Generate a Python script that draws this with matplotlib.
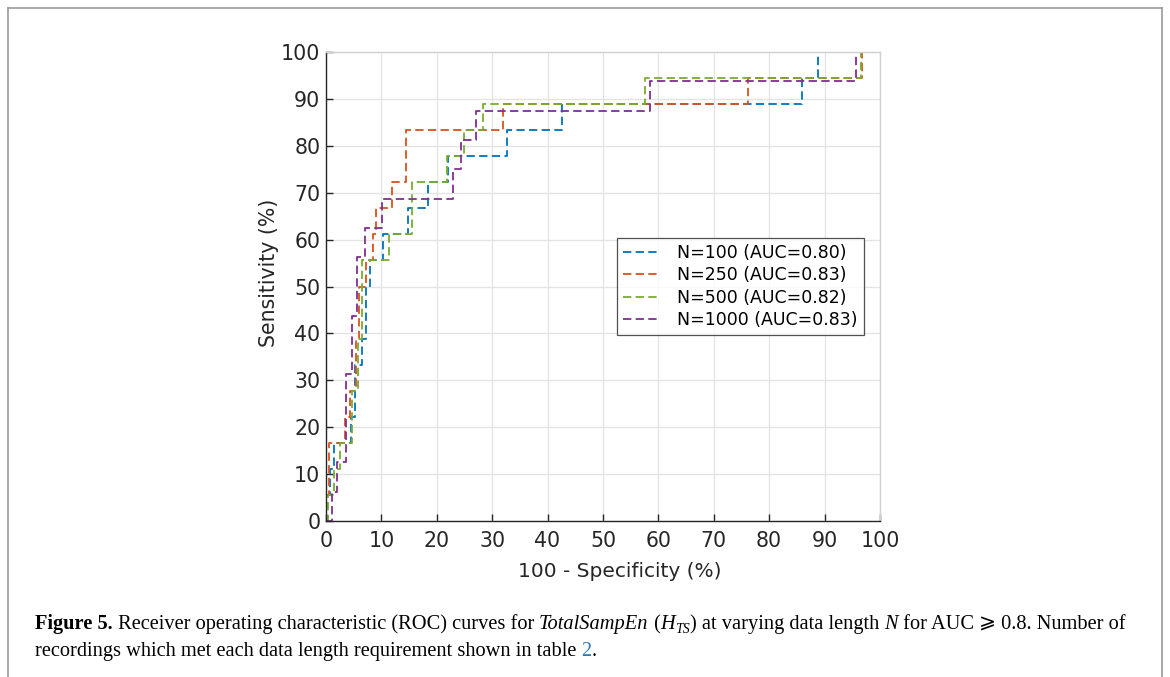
import matplotlib
matplotlib.use("Agg")
import matplotlib.pyplot as plt
from matplotlib.lines import Line2D

# ------------------------------------------------------------------
# Data — ROC points (100 - specificity, sensitivity), in %
# ------------------------------------------------------------------

labels = [
    "N=100 (AUC=0.80)",
    "N=250 (AUC=0.83)",
    "N=500 (AUC=0.82)",
    "N=1000 (AUC=0.83)",
]

fpr_100 = [0, 0, 0.8, 0.8, 1.5, 1.5, 4.5, 4.5, 5.2, 5.2, 6.5, 6.5, 7.2, 7.2, 8, 8,
           10.3, 10.3, 14.8, 14.8, 18.5, 18.5, 22, 22, 32.7, 32.7, 42.6, 42.6,
           86, 86, 88.8, 88.8, 100]
tpr_100 = [0, 5.6, 5.6, 11.1, 11.1, 16.7, 16.7, 22.2, 22.2, 33.3, 33.3, 38.9, 38.9,
           50, 50, 55.6, 55.6, 61.1, 61.1, 66.7, 66.7, 72.2, 72.2, 77.8, 77.8,
           83.3, 83.3, 88.9, 88.9, 94.4, 94.4, 100, 100]

fpr_250 = [0, 0, 0.5, 0.5, 3.5, 3.5, 4.3, 4.3, 5.5, 5.5, 6, 6, 7.2, 7.2,
           8.5, 8.5, 9, 9, 11.9, 11.9, 14.4, 14.4, 32, 32, 76.2, 76.2, 96.8, 96.8, 100]
tpr_250 = [0, 5.6, 5.6, 16.7, 16.7, 22.2, 22.2, 27.8, 27.8, 38.9, 38.9,
           50, 50, 55.6, 55.6, 61.1, 61.1, 66.7, 66.7, 72.2, 72.2, 83.3, 83.3,
           88.9, 88.9, 94.4, 94.4, 100, 100]

fpr_500 = [0, 0.4, 0.4, 1.5, 1.5, 2.5, 2.5, 4.7, 4.7, 5.8, 5.8, 6.5, 6.5, 11.4, 11.4,
           15.5, 15.5, 21.8, 21.8, 25, 25, 28.4, 28.4, 57.6, 57.6, 96.5, 96.5, 100]
tpr_500 = [0, 0, 5.6, 5.6, 11.1, 11.1, 16.7, 16.7, 27.8, 27.8, 38.9, 38.9, 55.6, 55.6,
           61.1, 61.1, 72.2, 72.2, 77.8, 77.8, 83.3, 83.3, 88.9, 88.9, 94.4, 94.4,
           100, 100]

fpr_1000 = [0, 1.1, 1.1, 2, 2, 3.6, 3.6, 4.7, 4.7, 5.6, 5.6, 7, 7, 10.1, 10.1, 23, 23,
            24.4, 24.4, 27, 27, 58.5, 58.5, 95.7, 95.7, 100]
tpr_1000 = [0, 0, 6.25, 6.25, 12.5, 12.5, 31.25, 31.25, 43.75, 43.75, 56.25, 56.25,
            62.5, 62.5, 68.75, 68.75, 75, 75, 81.25, 81.25, 87.5, 87.5, 93.75, 93.75,
            100, 100]

curves = [
    (fpr_100, tpr_100),
    (fpr_250, tpr_250),
    (fpr_500, tpr_500),
    (fpr_1000, tpr_1000),
]

ticks = list(range(0, 101, 10))

# MATLAB default line colours
COLORS = ["#0072BD", "#D95319", "#77AC30", "#7E2F8E"]

# ------------------------------------------------------------------
# Figure
# ------------------------------------------------------------------

plt.rcParams["font.family"] = "DejaVu Sans"

fig = plt.figure(figsize=(11.7, 6.77), dpi=100)
ax = fig.add_axes([0.2786, 0.2304, 0.4735, 0.6928])

for (x, y), c, lab in zip(curves, COLORS, labels):
    ax.plot(x, y, color=c, lw=1.3, linestyle=(0, (4.6, 2.4)), label=lab)

ax.set_xlim(0, 100)
ax.set_ylim(0, 100)
ax.set_xticks(ticks)
ax.set_yticks(ticks)
ax.tick_params(direction="in", length=5, width=1, labelsize=14.8, colors="#262626")
ax.tick_params(axis="x", pad=7)
ax.tick_params(axis="y", pad=4)
ax.grid(True, color="#e3e3e3", lw=0.9)
ax.set_axisbelow(True)

for side in ("left", "bottom"):
    ax.spines[side].set_color("#262626")
    ax.spines[side].set_linewidth(1.0)
for side in ("top", "right"):
    ax.spines[side].set_color("#d0d0d0")
    ax.spines[side].set_linewidth(1.0)

ax.set_xlabel("100 - Specificity (%)", fontsize=14.5, color="#262626")
ax.set_ylabel("Sensitivity (%)", fontsize=14.8, color="#262626")
ax.xaxis.set_label_coords(0.53, -0.087)
ax.yaxis.set_label_coords(-0.084, 0.53)

leg = ax.legend(loc="upper left", bbox_to_anchor=(0.510, 0.622), fontsize=12.5,
                frameon=True, fancybox=False, edgecolor="#262626",
                handlelength=2.2, handletextpad=0.9, borderpad=0.35,
                labelspacing=0.25)
leg.get_frame().set_linewidth(0.9)

# page frame around the figure
FRAME = "#999999"
fig.add_artist(Line2D([8 / 1170, 8 / 1170], [0, 1 - 8 / 677], color=FRAME, lw=1.2))
fig.add_artist(Line2D([8 / 1170, 1162 / 1170], [1 - 8 / 677, 1 - 8 / 677],
                      color=FRAME, lw=1.2))
fig.add_artist(Line2D([1162 / 1170, 1162 / 1170], [0, 1 - 8 / 677], color=FRAME,
                      lw=1.2))

# ------------------------------------------------------------------
# Caption — text runs placed one after another
# ------------------------------------------------------------------

renderer = fig.canvas.get_renderer()
CAP_SIZE = 14.65


def place_run(x_px, y_px, parts):
    """Draw (text, style) segments left to right; returns the end x in pixels."""
    for txt, kw in parts:
        opts = {"fontsize": CAP_SIZE, "family": "Liberation Serif"}
        opts.update(kw)
        t = fig.text(x_px / 1170, 1 - y_px / 677, txt, va="baseline", ha="left",
                     **opts)
        x_px += t.get_window_extent(renderer).width
    return x_px


x = place_run(35, 629, [
    ("Figure 5.", {"weight": "bold"}),
    (" Receiver operating characteristic (ROC) curves for ", {}),
    ("TotalSampEn", {"style": "italic"}),
    (" (", {}),
    ("H", {"style": "italic"}),
])
x = place_run(x, 633, [("TS", {"style": "italic", "fontsize": CAP_SIZE * 0.68})])
place_run(x, 629, [
    (") at varying data length ", {}),
    ("N", {"style": "italic"}),
    (" for AUC ", {}),
    ("\u2a7e", {"family": ["DejaVu Serif", "DejaVu Sans"]}),
    (" 0.8. Number of", {}),
])

place_run(35, 656, [
    ("recordings which met each data length requirement shown in table ", {}),
    ("2", {"color": "#2b7bb9"}),
    (".", {}),
])

fig.savefig("out.png", dpi=100)
